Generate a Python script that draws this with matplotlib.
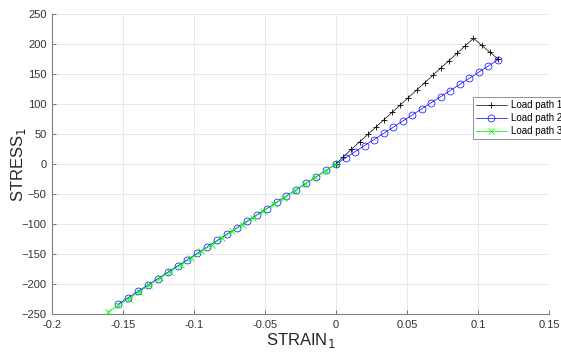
import matplotlib
matplotlib.use("Agg")
import matplotlib.pyplot as plt

# Load path 1 (black, '+')
strain1 = [0.0, 0.0052, 0.0109, 0.0166, 0.0224, 0.0281, 0.0338, 0.0396, 0.0453, 0.0510,
           0.0568, 0.0625, 0.0682, 0.0739, 0.0797, 0.0854, 0.0911, 0.0968,
           0.1025, 0.1083, 0.1140]
stress1 = [0.0, 12.2, 24.5, 36.9, 49.2, 61.5, 73.9, 86.2, 98.5, 110.8,
           123.2, 135.5, 147.8, 160.2, 172.5, 184.8, 197.2, 209.5,
           198.0, 186.5, 175.0]

# Load path 2 (blue, 'o')
strain2 = [-0.1535, -0.1465, -0.1395, -0.1326, -0.1256, -0.1186, -0.1116, -0.1047, -0.0977,
           -0.0907, -0.0837, -0.0767, -0.0698, -0.0628, -0.0558, -0.0488, -0.0419, -0.0349,
           -0.0279, -0.0209, -0.0140, -0.0070, 0.0, 0.0067, 0.0134, 0.0201, 0.0268, 0.0335,
           0.0402, 0.0469, 0.0536, 0.0603, 0.0670, 0.0737, 0.0804, 0.0871, 0.0938, 0.1005,
           0.1072, 0.1140]
stress2 = [-233.6, -223.0, -212.3, -201.8, -191.2, -180.5, -169.9, -159.4, -148.7,
           -138.0, -127.4, -116.7, -106.2, -95.6, -84.9, -74.3, -63.8, -53.1,
           -42.5, -31.8, -21.3, -10.7, 0.0, 10.2, 20.4, 30.6, 40.8, 51.0,
           61.2, 71.4, 81.6, 91.8, 102.0, 112.2, 122.4, 132.6, 142.8, 153.0,
           163.2, 173.5]

# Load path 3 (green, 'x')
strain3 = [0.0, -0.0073, -0.0146, -0.0219, -0.0292, -0.0365, -0.0438, -0.0511, -0.0584,
           -0.0657, -0.0730, -0.0803, -0.0876, -0.0949, -0.1022, -0.1095, -0.1168,
           -0.1241, -0.1314, -0.1387, -0.1460, -0.1533, -0.1606]
stress3 = [0.0, -11.2, -22.4, -33.6, -44.9, -56.1, -67.3, -78.5, -89.7,
           -100.9, -112.1, -123.3, -134.6, -145.8, -157.0, -168.2, -179.4,
           -190.6, -201.8, -213.0, -224.3, -235.5, -246.7]

labels = ["Load path 1", "Load path 2", "Load path 3"]
xticks = [-0.2, -0.15, -0.1, -0.05, 0, 0.05, 0.1, 0.15]
xticklabels = ["-0.2", "-0.15", "-0.1", "-0.05", "0", "0.05", "0.1", "0.15"]
yticks = [-250, -200, -150, -100, -50, 0, 50, 100, 150, 200, 250]

plt.rcParams['font.family'] = ['Liberation Sans', 'DejaVu Sans']

fig = plt.figure(figsize=(5.61, 3.63), dpi=100)
ax = fig.add_axes([52/561, (363-314)/363, (549-52)/561, 300/363])

ax.plot(strain1, stress1, color='black', lw=0.5, marker='+', ms=5, mew=0.6, label=labels[0])
ax.plot(strain2, stress2, color='blue', lw=0.5, marker='o', ms=5, mew=0.5,
        mfc='none', label=labels[1])
ax.plot(strain3, stress3, color=(0, 1, 0), lw=0.6, marker='x', ms=3.8, mew=0.6, label=labels[2])

ax.set_xlim(-0.2, 0.15)
ax.set_ylim(-250, 250)
ax.set_xticks(xticks)
ax.set_xticklabels(xticklabels)
ax.set_yticks(yticks)
ax.grid(True, color='#e8e8e8', lw=0.7)
ax.set_axisbelow(True)
for s in ['top', 'right']:
    ax.spines[s].set_visible(False)
for s in ['left', 'bottom']:
    ax.spines[s].set_color('#808080')
    ax.spines[s].set_linewidth(0.8)
ax.tick_params(direction='in', length=3, width=0.6, color='#606060',
               labelsize=8, labelcolor='#333333', pad=4)

ax.set_xlabel(r'STRAIN$_1$', fontsize=12, color='#262626')
ax.set_ylabel(r'STRESS$_1$', fontsize=12, color='#262626')
ax.xaxis.set_label_coords(0.5, -(341 - 314) / 300, transform=ax.transAxes)
ax.xaxis.label.set_va('center')
ax.yaxis.set_label_coords(-(52 - 19) / 497, 0.5, transform=ax.transAxes)
ax.yaxis.label.set_va('center')

leg = ax.legend(loc='upper left', bbox_to_anchor=(473/561, 1 - 97/363),
                bbox_transform=fig.transFigure, fontsize=7, frameon=True,
                fancybox=False, framealpha=1, edgecolor='#909090',
                borderpad=0.3, labelspacing=0.33, handlelength=3.2,
                handletextpad=0.4, borderaxespad=0)
leg.get_frame().set_linewidth(0.7)

fig.savefig('out.png', dpi=100)
